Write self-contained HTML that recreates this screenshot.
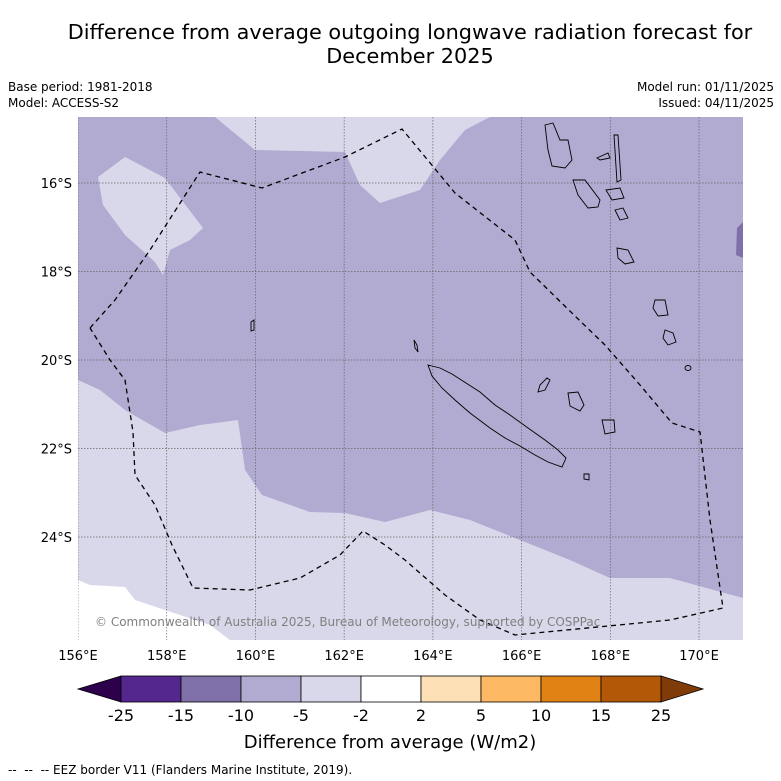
<!DOCTYPE html>
<html><head><meta charset="utf-8"><style>
body{margin:0;background:#fff;font-family:"Liberation Sans","DejaVu Sans",sans-serif}
svg{display:block}
text{font-family:"DejaVu Sans","Liberation Sans",sans-serif}
</style></head><body>
<svg id="chart" width="781" height="781">
<text x="410" y="39" font-size="20.8" text-anchor="middle">Difference from average outgoing longwave radiation forecast for</text>
<text x="410" y="63" font-size="20.8" text-anchor="middle">December 2025</text>
<text x="8" y="91" font-size="12">Base period: 1981-2018</text>
<text x="8" y="107" font-size="12">Model: ACCESS-S2</text>
<text x="774" y="91" font-size="12" text-anchor="end">Model run: 01/11/2025</text>
<text x="774" y="107" font-size="12" text-anchor="end">Issued: 04/11/2025</text>
<defs><clipPath id="mc"><rect x="78" y="117" width="665" height="523"/></clipPath></defs>
<g clip-path="url(#mc)">
<rect x="78" y="117" width="665" height="523" fill="#b1aad1"/>
<polygon fill="#d8d8ea" points="215,117 490,117 465,130 440,160 420,190 380,203 360,185 345,152 255,150"/>
<polygon fill="#d8d8ea" points="98,177 125,157 165,178 203,228 190,240 170,250 163,275 155,262 125,235 103,205"/>
<polygon fill="#d8d8ea" points="78,380 100,390 125,410 165,433 200,425 238,420 245,470 262,495 310,512 345,513 385,522 430,510 470,520 520,540 570,560 610,578 670,578 743,598 743,640 78,640"/>
<polygon fill="#ffffff" points="78,580 90,585 125,587 135,600 165,610 210,625 230,640 78,640"/>
<polygon fill="#7f70aa" points="743,222 737,228 736,255 743,258"/>
<g id="grid" stroke="#666" stroke-width="0.7" stroke-dasharray="1.5,1.5"></g>
<g fill="none" stroke="#000" stroke-width="0.9">
<polygon points="428,365 440,368 452,374 466,383 480,392 495,405 510,415 528,428 545,440 558,450 566,458 562,467 548,462 535,455 520,446 505,438 490,428 470,413 455,400 442,388 432,376"/>
<polygon points="540,385 547,378 550,380 545,390 538,392"/>
<polygon points="568,393 578,392 584,405 580,411 570,406"/>
<polygon points="602,420 614,420 615,432 605,434"/>
<polygon points="545,125 553,123 560,140 568,140 572,160 565,168 552,166 548,150"/>
<polygon points="573,180 585,180 600,200 598,207 588,208 578,195"/>
<polygon points="617,248 628,250 634,262 625,264 618,258"/>
<polygon points="655,300 665,300 668,315 658,316 653,308"/>
<polygon points="665,330 673,333 676,342 668,345 663,338"/>
<polygon points="614,135 618,135 621,180 617,182"/>
<polygon points="597,158 608,153 610,158 600,160"/>
<polygon points="606,190 620,188 624,198 612,200"/>
<polygon points="615,210 623,208 628,218 620,220"/>
<ellipse cx="688" cy="368" rx="3" ry="2.5"/>
<polygon points="584,474 589,474 589,480 584,479"/>
<polygon points="251,322 254,320 254,330 251,331"/>
<polygon points="414,340 417,345 418,352 415,348"/>
</g>
<polyline fill="none" stroke="#000" stroke-width="1.3" stroke-dasharray="5,4" points="90,328 115,300 150,250 200,172 262,188 345,157 402,129 455,193 515,240 530,272 575,316 605,345 640,385 672,423 700,432 710,520 723,608 670,620 515,635 480,620 445,595 405,560 385,545 363,531 340,555 300,578 250,590 193,588 172,545 155,505 135,475 133,432 125,380 110,360 90,328"/>
<text x="95" y="626" font-size="12" fill="#808080">© Commonwealth of Australia 2025, Bureau of Meteorology, supported by COSPPac</text>
</g>
<g id="ticks"></g>
<g id="cbar"></g>
<text x="390" y="748" font-size="18" text-anchor="middle">Difference from average (W/m2)</text>
<text x="8" y="774" font-size="12" xml:space="preserve">--  --  -- EEZ border V11 (Flanders Marine Institute, 2019).</text>
</svg>
<script>
const lonTicks=[156,158,160,162,164,166,168,170];
const latTicks=[16,18,20,22,24];
const levels=[-25,-15,-10,-5,-2,2,5,10,15,25];
const colors=["#54278f","#7f70aa","#b1aad1","#d8d8ea","#ffffff","#fee0b6","#fdb863","#e08214","#b35806"];
const extendColors=["#2d004b","#7f3b08"];
const NS="http://www.w3.org/2000/svg";
function xLon(l){return 78+(l-156)*44.36;}
function yLat(l){return 183+(l-16)*44.25;}
function mk(t,a,p){const e=document.createElementNS(NS,t);for(const k in a)e.setAttribute(k,a[k]);p.appendChild(e);return e;}
const grid=document.getElementById('grid'),ticks=document.getElementById('ticks');
lonTicks.forEach(l=>{
 const x=xLon(l);
 const g=mk('line',{x1:x,x2:x,y1:117,y2:640},grid);
 
 
 const t=mk('text',{x:x,y:660,'font-size':13,'text-anchor':'middle'},ticks);
 
 
 t.textContent=l+'°E';
});
latTicks.forEach(l=>{
 const y=yLat(l);
 const g=mk('line',{x1:78,x2:743,y1:y,y2:y},grid);
 
 
 const t=mk('text',{x:72,y:y+5,'font-size':13,'text-anchor':'end'},ticks);
 
 
 t.textContent=l+'°S';
});
const cb=document.getElementById('cbar');
const x0=121,bw=60,y0=676,h=26;
const lt=mk('polygon',{points:`78,${y0+h/2} ${x0},${y0} ${x0},${y0+h}`,fill:extendColors[0],stroke:'#000','stroke-width':0.8},cb);


const xe=x0+bw*colors.length;
const rt=mk('polygon',{points:`${xe},${y0} ${xe+42},${y0+h/2} ${xe},${y0+h}`,fill:extendColors[1],stroke:'#000','stroke-width':0.8},cb);


colors.forEach((c,i)=>{
 const r=mk('rect',{x:x0+i*bw,y:y0,width:bw,height:h,fill:c,stroke:'#000','stroke-width':0.8},cb);
 
 
});
levels.forEach((v,i)=>{
 const t=mk('text',{x:x0+i*bw,y:y0+h+19,'font-size':16,'text-anchor':'middle'},cb);
 
 
 t.textContent=v;
});
</script>
</body></html>
